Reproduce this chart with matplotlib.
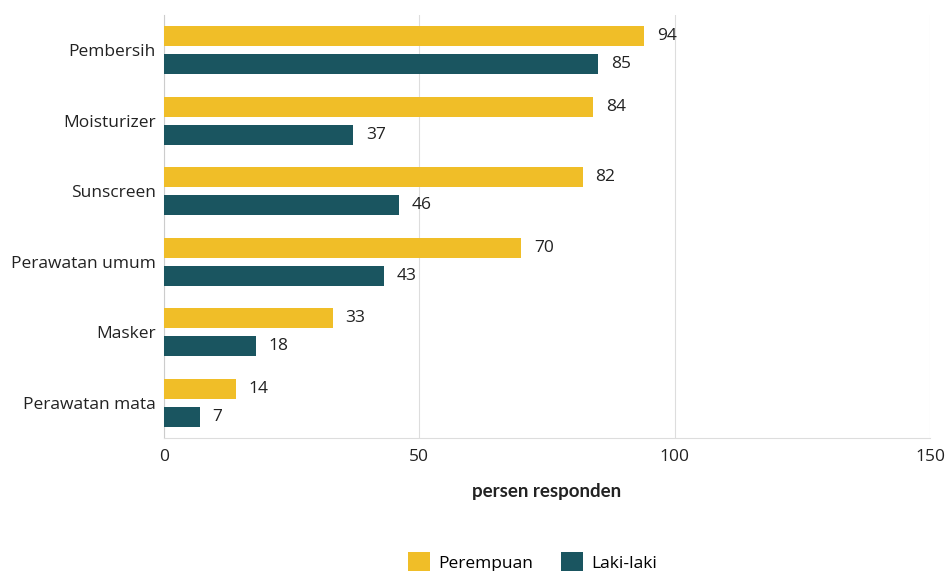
import numpy as np
import matplotlib.pyplot as plt

plt.rcParams['font.family'] = ['Open Sans', 'DejaVu Sans']

categories = ['Pembersih', 'Moisturizer', 'Sunscreen', 'Perawatan umum', 'Masker', 'Perawatan mata']
perempuan = [94, 84, 82, 70, 33, 14]
laki_laki = [85, 37, 46, 43, 18, 7]

YELLOW = '#F0BE28'
TEAL = '#1A5560'

fig = plt.figure(figsize=(9.47, 5.71), dpi=100)
ax = fig.add_axes([0.1732, 0.2329, 0.8088, 0.7408])

y = np.arange(len(categories))
h = 0.284
off = 0.2

b1 = ax.barh(y - off, perempuan, height=h, color=YELLOW, label='Perempuan', zorder=3)
b2 = ax.barh(y + off, laki_laki, height=h, color=TEAL, label='Laki-laki', zorder=3)

for bars, vals in ((b1, perempuan), (b2, laki_laki)):
    for bar, v in zip(bars, vals):
        ax.text(v + 2.5, bar.get_y() + bar.get_height() / 2, str(v),
                va='center', ha='left', fontsize=12.5, color='#222222')

ax.set_xlim(0, 150)
ax.set_ylim(len(categories) - 0.5, -0.5)
ax.set_xticks([0, 50, 100, 150])
ax.set_yticks(y)
ax.set_yticklabels(categories)
ax.tick_params(axis='both', length=0, labelsize=12.5, colors='#222222')
ax.tick_params(axis='x', pad=8)
ax.tick_params(axis='y', pad=6)
ax.grid(axis='x', color='#dddddd', linewidth=0.8, zorder=0)

for s in ['top', 'right']:
    ax.spines[s].set_visible(False)
ax.spines['left'].set_color('#cccccc')
ax.spines['bottom'].set_color('#dddddd')

ax.set_xlabel('persen responden', fontsize=13.5, fontweight='bold', labelpad=13,
              color='#222222', family=['Lato', 'DejaVu Sans'])

fig.legend(handles=[b1, b2], loc='lower center', bbox_to_anchor=(0.562, -0.03), ncol=2,
           frameon=False, fontsize=12.5, handlelength=1.3, handleheight=1.4,
           columnspacing=1.6, handletextpad=0.45)

fig.savefig('out.png', dpi=100)
